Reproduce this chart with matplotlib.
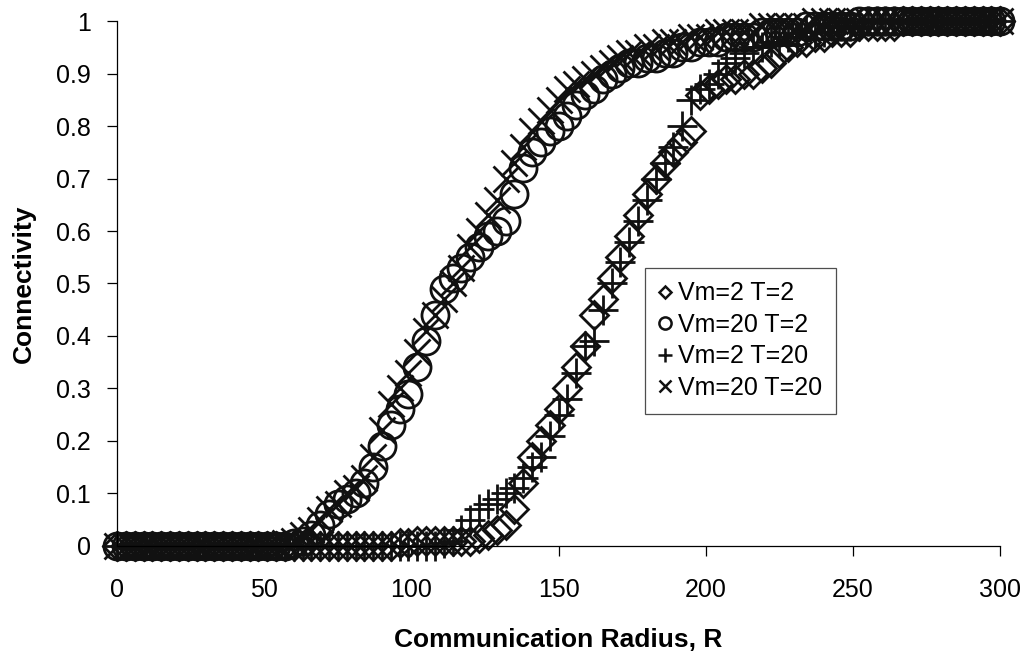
import numpy as np
import matplotlib
matplotlib.use('Agg')
from matplotlib import pyplot as plt

plt.rcParams['font.family'] = ['Liberation Sans', 'DejaVu Sans']

# communication radius, sampled every 3 units
radius = np.arange(0, 301, 3)

# connectivity for each mobility setting
conn_vm2_t2 = ([0.0] * 32 +
               [0.005, 0.005, 0.01, 0.01, 0.01, 0.01, 0.01, 0.01, 0.01, 0.015,
                0.02, 0.03, 0.04, 0.07, 0.12, 0.17, 0.20, 0.23, 0.26, 0.30,
                0.34, 0.38, 0.44, 0.47, 0.51, 0.55, 0.59, 0.63, 0.67, 0.70,
                0.73, 0.75, 0.77, 0.79, 0.86, 0.87, 0.88, 0.89, 0.89, 0.90,
                0.90, 0.91, 0.92, 0.94, 0.95, 0.96, 0.96, 0.97, 0.97, 0.98,
                0.98, 0.98, 0.99, 0.99, 0.99, 0.99, 0.99] +
               [1.0] * 12)

conn_vm20_t2 = ([0.0] * 20 +
                [0.005, 0.01, 0.02, 0.04, 0.06, 0.08, 0.09, 0.10, 0.12, 0.15,
                 0.19, 0.23, 0.26, 0.29, 0.34, 0.39, 0.44, 0.49, 0.51, 0.53,
                 0.55, 0.57, 0.59, 0.60, 0.62, 0.67, 0.72, 0.75, 0.77, 0.79,
                 0.80, 0.82, 0.84, 0.86, 0.87, 0.89, 0.90, 0.91, 0.92, 0.92,
                 0.93, 0.93, 0.94, 0.94, 0.95, 0.95, 0.96, 0.96, 0.96, 0.97,
                 0.97, 0.97, 0.97, 0.98, 0.98, 0.98, 0.98, 0.98, 0.99, 0.99,
                 0.99, 0.99, 0.99, 0.99] +
                [1.0] * 17)

conn_vm2_t20 = ([0.0] * 37 +
                [0.005, 0.01, 0.03, 0.05, 0.07, 0.08, 0.09, 0.10, 0.11, 0.13,
                 0.15, 0.17, 0.21, 0.25, 0.28, 0.33, 0.38, 0.39, 0.45, 0.50,
                 0.54, 0.58, 0.62, 0.66, 0.70, 0.73, 0.76, 0.80, 0.85, 0.87,
                 0.88, 0.90, 0.92, 0.93, 0.94, 0.95, 0.95, 0.96, 0.96, 0.97,
                 0.97, 0.98, 0.98, 0.98, 0.99, 0.99, 0.99, 0.99] +
                [1.0] * 16)

conn_vm20_t20 = ([0.0] * 19 +
                 [0.005, 0.01, 0.02, 0.03, 0.05, 0.07, 0.08, 0.10, 0.11, 0.13,
                  0.17, 0.22, 0.27, 0.30, 0.33, 0.37, 0.41, 0.44, 0.47, 0.50,
                  0.53, 0.57, 0.60, 0.63, 0.66, 0.70, 0.73, 0.76, 0.79, 0.81,
                  0.83, 0.85, 0.87, 0.88, 0.89, 0.90, 0.91, 0.92, 0.93, 0.94,
                  0.94, 0.95, 0.95, 0.96, 0.96, 0.96, 0.97, 0.97, 0.97, 0.98,
                  0.98, 0.98, 0.98, 0.98, 0.99, 0.99, 0.99, 0.99, 0.99, 0.99] +
                 [1.0] * 22)

labels = ['Vm=2 T=2', 'Vm=20 T=2', 'Vm=2 T=20', 'Vm=20 T=20']
x_ticks = [0, 50, 100, 150, 200, 250, 300]
y_ticks = [0, 0.1, 0.2, 0.3, 0.4, 0.5, 0.6, 0.7, 0.8, 0.9, 1]
y_tick_labels = ['0', '0.1', '0.2', '0.3', '0.4', '0.5', '0.6', '0.7', '0.8', '0.9', '1']

fig = plt.figure(figsize=(10.33, 6.57), dpi=100)
ax = fig.add_axes([0.1133, 0.169, 0.855, 0.799])

styles = [('D', 14), ('o', 19.5), ('+', 22), ('x', 19)]
series = [conn_vm2_t2, conn_vm20_t2, conn_vm2_t20, conn_vm20_t20]
for (mk, ms), vals, lab in zip(styles, series, labels):
    ax.plot(radius, vals, linestyle='none', marker=mk, markersize=ms,
            markerfacecolor='none', markeredgecolor='#111111',
            markeredgewidth=2.0, label=lab, clip_on=False)

ax.set_xlim(0, 300)
ax.set_ylim(0, 1)
ax.set_xticks(x_ticks)
ax.set_yticks(y_ticks)
ax.set_yticklabels(y_tick_labels)
ax.spines['top'].set_visible(False)
ax.spines['right'].set_visible(False)
for s in ['left', 'bottom']:
    ax.spines[s].set_linewidth(0.9)
ax.tick_params(axis='both', direction='out', length=7, width=0.9, labelsize=18)
ax.tick_params(axis='x', pad=16)
ax.tick_params(axis='y', pad=12)

ax.set_xlabel('Communication Radius, R', fontsize=19, fontweight='bold', labelpad=19)
ax.set_ylabel('Connectivity', fontsize=19, fontweight='bold', labelpad=14)

leg = ax.legend(loc='upper left', bbox_to_anchor=(0.598, 0.53), fontsize=18,
                frameon=True, fancybox=False, markerscale=0.45,
                handlelength=0.5, handletextpad=0.25, labelspacing=0.3,
                borderpad=0.55, borderaxespad=0)
leg.get_frame().set_edgecolor('#222222')
leg.get_frame().set_linewidth(0.9)
for h in leg.legend_handles:
    h.set_markeredgewidth(1.8)

fig.savefig('out.png', dpi=100)
